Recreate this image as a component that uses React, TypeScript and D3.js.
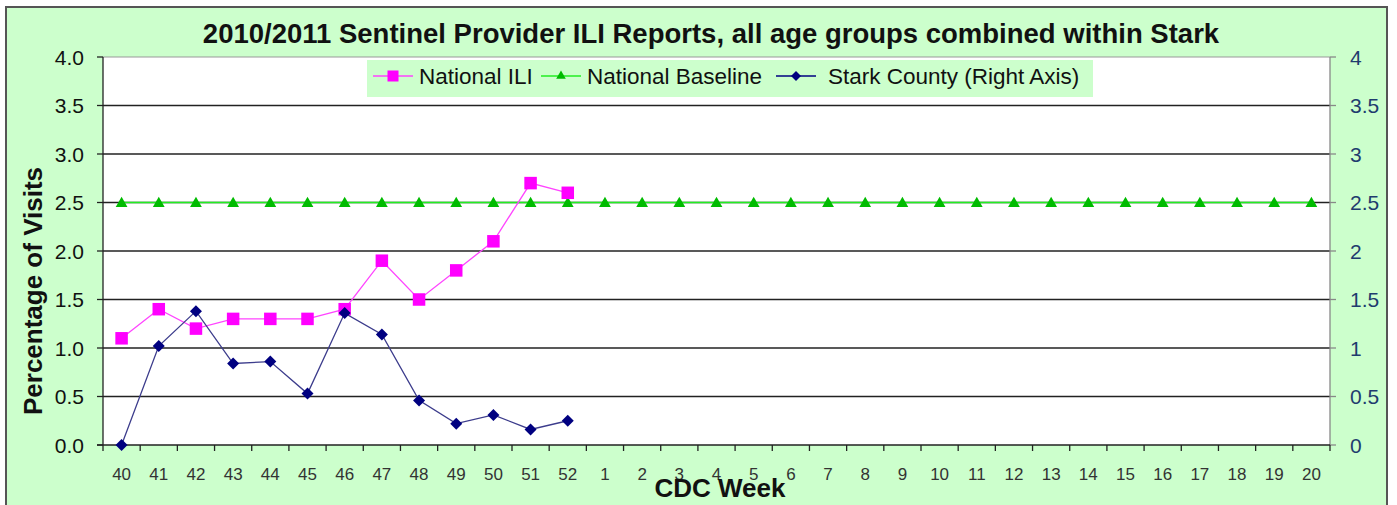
import React from "react";
import * as d3 from "d3";

const weeks = ["40","41","42","43","44","45","46","47","48","49","50","51","52","1","2","3","4","5","6","7","8","9","10","11","12","13","14","15","16","17","18","19","20"];
const nationalILI = [1.1, 1.4, 1.2, 1.3, 1.3, 1.3, 1.4, 1.9, 1.5, 1.8, 2.1, 2.7, 2.6];
const nationalBaseline = weeks.map(() => 2.5);
const starkCounty = [0.0, 1.02, 1.38, 0.84, 0.86, 0.53, 1.36, 1.14, 0.46, 0.22, 0.31, 0.16, 0.25];
const leftTicks = [0, 0.5, 1, 1.5, 2, 2.5, 3, 3.5, 4];
const rightTicks = [0, 0.5, 1, 1.5, 2, 2.5, 3, 3.5, 4];

const W = 1397, H = 505;
const L = 103, R = 1330, T = 57, B = 445;

export default function App() {
  const x = d3.scaleBand<string>().domain(weeks).range([L, R]);
  const yL = d3.scaleLinear().domain([0, 4]).range([B, T]);
  const yR = d3.scaleLinear().domain([0, 4]).range([B, T]);
  const cx = (i: number) => (x(weeks[i]) as number) + x.bandwidth() / 2;
  const lineL = d3.line<number>().x((_, i) => cx(i)).y((d) => yL(d));
  const lineR = d3.line<number>().x((_, i) => cx(i)).y((d) => yR(d));
  const tri = d3.symbol().type(d3.symbolTriangle).size(60)() as string;
  const sq = 12.5;
  const diamond = (s: number) => `M0,${-s}L${s},0L0,${s}L${-s},0Z`;
  const font = "Arial, 'Liberation Sans', sans-serif";

  return (
    <svg width={W} height={H} style={{ position: "absolute", left: 0, top: 0, display: "block" }} fontFamily={font}>
      <rect x={0} y={0} width={W} height={H} fill="#ffffff" />
      <rect x={6} y={7} width={1381} height={505} fill="#ccffcc" stroke="#555" strokeWidth={2} />
      <rect x={L} y={T} width={R - L} height={B - T} fill="#ffffff" />
      {/* gridlines */}
      {leftTicks.slice(1).map((t) => (
        <line key={"g" + t} x1={L} x2={R} y1={yL(t)} y2={yL(t)} stroke={t === 4 ? "#999" : "#222"} strokeWidth={t === 4 ? 1 : 1.3} />
      ))}
      {/* legend */}
      <rect x={367} y={60} width={726} height={37} fill="#ccffcc" />
      <g fontSize={22.5} fill="#111">
        <line x1={373} x2={413} y1={76} y2={76} stroke="#ff44ff" strokeWidth={1.5} />
        <rect x={387.5} y={70.5} width={11} height={11} fill="#ff00ff" />
        <text x={419} y={84}>National ILI</text>
        <line x1={541} x2={581} y1={76} y2={76} stroke="#22ee22" strokeWidth={1.5} />
        <path d={d3.symbol().type(d3.symbolTriangle).size(40)() as string} transform="translate(561,76)" fill="#00bb00" />
        <text x={587} y={84}>National Baseline</text>
        <line x1={776} x2={816} y1={76} y2={76} stroke="#000080" strokeWidth={1.5} />
        <path d={diamond(5)} transform="translate(796,76)" fill="#000080" />
        <text x={828} y={84}>Stark County (Right Axis)</text>
      </g>
      {/* axes lines */}
      <line x1={L} x2={L} y1={T} y2={B} stroke="#222" strokeWidth={1.3} />
      <line x1={R} x2={R} y1={T} y2={B} stroke="#888" strokeWidth={1.3} />
      <line x1={L - 6} x2={R} y1={B} y2={B} stroke="#222" strokeWidth={1.3} />
      {leftTicks.map((t) => (
        <g key={"l" + t}>
          <line x1={L - 6} x2={L} y1={yL(t)} y2={yL(t)} stroke="#222" strokeWidth={1.3} />
          <text x={L - 19} y={yL(t) + 7.5} textAnchor="end" fontSize={21} fill="#111">{t.toFixed(1)}</text>
        </g>
      ))}
      {rightTicks.map((t) => (
        <g key={"r" + t}>
          <line x1={R} x2={R + 6} y1={yR(t)} y2={yR(t)} stroke="#888" strokeWidth={1.3} />
          <text x={R + 20} y={yR(t) + 7.5} textAnchor="start" fontSize={21} fill="#1f3c6e">{String(t)}</text>
        </g>
      ))}
      {weeks.map((w, i) => (
        <line key={"xt" + w} x1={x(w) as number} x2={x(w) as number} y1={B} y2={B + 6} stroke="#222" strokeWidth={1.3} />
      ))}
      <line x1={R} x2={R} y1={B} y2={B + 6} stroke="#222" strokeWidth={1.3} />
      {weeks.map((w, i) => (
        <text key={"xl" + w} x={cx(i)} y={480} textAnchor="middle" fontSize={17} fill="#333">{w}</text>
      ))}
      {/* series */}
      <path d={lineL(nationalBaseline) as string} fill="none" stroke="#22ee22" strokeWidth={1.5} />
      {nationalBaseline.map((v, i) => (
        <path key={"b" + i} d={tri} transform={`translate(${cx(i)},${yL(v) + 1})`} fill="#00bb00" />
      ))}
      <path d={lineL(nationalILI) as string} fill="none" stroke="#ff44ff" strokeWidth={1.3} />
      {nationalILI.map((v, i) => (
        <rect key={"n" + i} x={cx(i) - sq / 2} y={yL(v) - sq / 2} width={sq} height={sq} fill="#ff00ff" />
      ))}
      <path d={lineR(starkCounty) as string} fill="none" stroke="#3c3c8c" strokeWidth={1.3} />
      {starkCounty.map((v, i) => (
        <path key={"s" + i} d={diamond(6)} transform={`translate(${cx(i)},${yR(v)})`} fill="#000080" />
      ))}
      {/* titles */}
      <text x={711} y={43} textAnchor="middle" fontSize={27.5} fontWeight="bold" fill="#111">2010/2011 Sentinel Provider ILI Reports, all age groups combined within Stark</text>
      <text x={720} y={497} textAnchor="middle" fontSize={26} fontWeight="bold" fill="#111">CDC Week</text>
      <text transform={`translate(42,291) rotate(-90)`} textAnchor="middle" fontSize={26} fontWeight="bold" fill="#111">Percentage of Visits</text>
    </svg>
  );
}
